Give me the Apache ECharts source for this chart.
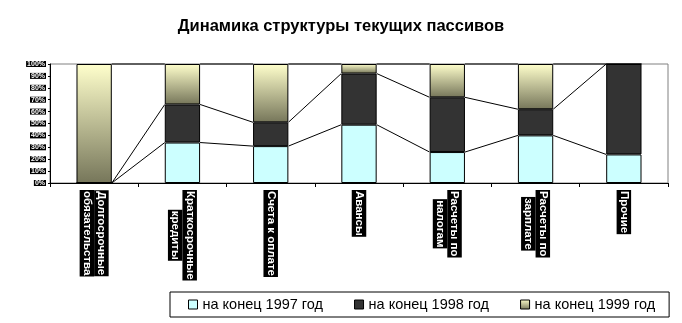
<!DOCTYPE html>
<html>
<head>
<meta charset="utf-8">
<script src="https://cdn.jsdelivr.net/npm/echarts@6/dist/echarts.min.js"></script>
<style>
html,body{margin:0;padding:0;background:#fff;}
#chart{width:682px;height:323px;}
</style>
</head>
<body>
<div id="chart"></div>
<script>
const categories = ['Долгосрочные\nобязательства', 'Краткосрочные\nкредиты', 'Счета к оплате', 'Авансы', 'Расчеты по\nналогам', 'Расчеты по\nзарплате', 'Прочие'];
const seriesNames = ['на конец 1997 год', 'на конец 1998 год', 'на конец 1999 год'];
const v1997 = [0, 34, 31, 49, 26, 40, 24];
const v1998 = [0, 32, 20, 43, 46, 22, 76];
const v1999 = [100, 34, 49, 8, 28, 38, 0];
const yTicks = [0, 10, 20, 30, 40, 50, 60, 70, 80, 90, 100];

const FONT = '"Liberation Sans", Arial, sans-serif';
const values = [v1997, v1998, v1999];
// cumulative tops for series lines
const cum = [];
let run = categories.map(() => 0);
values.forEach(arr => {
  run = run.map((r, i) => r + arr[i]);
  cum.push(run.slice());
});
const lineData = [];
cum.forEach(c => {
  for (let i = 0; i < categories.length - 1; i++) lineData.push([i, c[i], c[i + 1]]);
});

const colors = [
  '#CCFFFF',
  '#333333',
  { type: 'linear', x: 0, y: 0, x2: 0, y2: 1, colorStops: [{ offset: 0, color: '#FFFFCC' }, { offset: 1, color: '#76765A' }] }
];

const chart = echarts.init(document.getElementById('chart'), null, { renderer: 'canvas' });
chart.setOption({
  animation: false,
  backgroundColor: '#fff',
  title: {
    text: 'Динамика структуры текущих пассивов',
    left: 'center',
    top: 18,
    padding: 0,
    textStyle: { fontFamily: FONT, fontSize: 16.5, fontWeight: 'bold', color: '#000' }
  },
  legend: {
    data: seriesNames,
    left: 170,
    top: 292,
    padding: [5, 14, 5, 18],
    itemGap: 31,
    itemWidth: 9,
    itemHeight: 9,
    icon: 'rect',
    borderColor: '#000',
    borderWidth: 1,
    itemStyle: { borderColor: '#000', borderWidth: 1 },
    textStyle: { fontFamily: FONT, fontSize: 14.5, color: '#000' }
  },
  grid: {
    left: 50, right: 14, top: 64, bottom: 140,
    show: true, borderColor: '#808080', borderWidth: 1
  },
  xAxis: {
    type: 'category',
    data: categories,
    axisLine: { lineStyle: { color: '#000', width: 1 } },
    axisTick: { show: true, length: 4, lineStyle: { color: '#000' } },
    axisLabel: {
      interval: 0,
      rotate: -90,
      margin: 7,
      formatter: v => v.split('\n').map(s => '{a|' + s + '}').join('\n'),
      rich: {
        a: {
          fontFamily: FONT, fontSize: 11.5, fontWeight: 'bold', color: '#fff',
          backgroundColor: '#000', align: 'center', lineHeight: 14.5, height: 14.5,
          padding: [0, 1]
        }
      }
    }
  },
  yAxis: {
    type: 'value',
    min: 0, max: 100, interval: 10,
    splitLine: { show: false },
    axisLine: { show: true, lineStyle: { color: '#000', width: 1 } },
    axisTick: { show: true, length: 2, lineStyle: { color: '#000' } },
    axisLabel: {
      margin: 4,
      formatter: v => yTicks.includes(v) ? v + '%' : '',
      fontFamily: FONT, fontSize: 7, fontWeight: 'bold', color: '#fff',
      backgroundColor: '#000', padding: [0, 1], lineHeight: 6
    }
  },
  series: [
    ...seriesNames.map((name, k) => ({
      name: name,
      type: 'bar',
      stack: 'total',
      barWidth: '40%',
      data: values[k],
      itemStyle: { color: colors[k], borderColor: '#000', borderWidth: 1 },
      emphasis: { disabled: true }
    })),
    {
      type: 'custom',
      name: 'lines',
      data: lineData,
      encode: { x: 0, y: [1, 2] },
      z: 5,
      silent: true,
      renderItem: function (params, api) {
        const i = api.value(0);
        const hw = api.size([1, 0])[0] * 0.2;
        const p1 = api.coord([i, api.value(1)]);
        const p2 = api.coord([i + 1, api.value(2)]);
        return {
          type: 'line',
          shape: { x1: p1[0] + hw, y1: p1[1], x2: p2[0] - hw, y2: p2[1] },
          style: { stroke: '#000', lineWidth: 1 }
        };
      }
    }
  ]
});
</script>
</body>
</html>
